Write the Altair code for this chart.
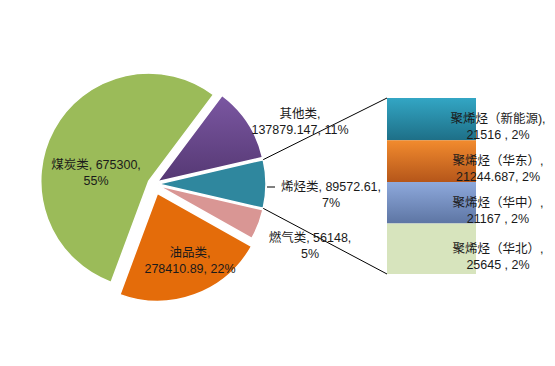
import math
import altair as alt
import pandas as pd

# ---------------- data ----------------
# pie slices, listed clockwise starting with the slice that is split into the bar
pie_names = ["烯烃类", "燃气类", "油品类", "煤炭类", "其他类"]
pie_values = [89572.61, 56148, 278410.89, 675300, 137879.147]
pie_pct = [7, 5, 22, 55, 11]
pie_wrap_after_value = [True, True, False, True, False]

# secondary bar (breakdown of 烯烃类), top to bottom
bar_names = ["聚烯烃（新能源)", "聚烯烃（华东）", "聚烯烃（华中）", "聚烯烃（华北）"]
bar_values = [21516, 21244.687, 21167, 25645]
bar_pct = [2, 2, 2, 2]

# ---------------- layout / style ----------------
W, H = 539, 350
CX, CY, R = 146, 176, 108
EXPLODE = {"煤炭类": 6, "油品类": 10, "其他类": 4, "烯烃类": 4, "燃气类": 4}
BX0, BX1, BY0, BY1 = 379, 468, 90, 266
FONT = "Liberation Sans, Noto Sans CJK SC"
FS = 12.5
TXT = "#1a1a1a"
LABEL_POS = {  # centre of each pie label block (view px)
    "煤炭类": (88, 157), "油品类": (182, 245), "其他类": (292, 106),
    "烯烃类": (323, 179), "燃气类": (302, 230),
}
pie_colors = {"烯烃类": "#2F879E", "燃气类": "#D99694", "油品类": "#E46C0A",
              "煤炭类": "#9BBB59", "其他类": "#6A4A90"}


def grad(top, bottom):
    return alt.LinearGradient(gradient="linear", x1=0, y1=0, x2=0, y2=1,
                              stops=[alt.GradientStop(offset=0, color=top),
                                     alt.GradientStop(offset=1, color=bottom)])


bar_fills = [grad("#33A6C4", "#1E6F87"), grad("#F28B2E", "#B5561A"),
             grad("#8EA9DC", "#5D75A3"), "#D7E4BD"]


def fmt(v):
    return str(v)


# ---------------- geometry derived from the data ----------------
total = sum(pie_values)
start = math.pi / 2 - math.pi * pie_values[0] / total
rows, acc = [], 0.0
for n, v, p, wrap in zip(pie_names, pie_values, pie_pct, pie_wrap_after_value):
    t0, t1 = acc, acc + v
    acc = t1
    mid = start + 2 * math.pi * (t0 + t1) / 2 / total
    e = EXPLODE.get(n, 0)
    label = f"{n}, {fmt(v)},\n{p}%" if wrap else f"{n},\n{fmt(v)}, {p}%"
    lx, ly = LABEL_POS[n]
    rows.append(dict(name=n, value=v, t0=t0, t1=t1,
                     px=CX + e * math.sin(mid), py=CY - e * math.cos(mid),
                     label=label, lx=lx, ly=ly))
pie_df = pd.DataFrame(rows)

btotal = sum(bar_values)
brows, acc = [], 0.0
for n, v, p in zip(bar_names, bar_values, bar_pct):
    vt = fmt(v) + (" " if float(v).is_integer() else "")
    brows.append(dict(name=n, b0=acc, b1=acc + v, bmid=acc + v / 2,
                      label=f"{n},\n{vt}, {p}%"))
    acc += v
bar_df = pd.DataFrame(brows)

a0 = start
a1 = start + 2 * math.pi * pie_values[0] / total
amid = (a0 + a1) / 2
ox = pie_df.loc[0, "px"]
oy = pie_df.loc[0, "py"]
line_df = pd.DataFrame([
    dict(x=ox + R * math.sin(a0), y=oy - R * math.cos(a0), x2=BX0, y2=BY0),
    dict(x=ox + R * math.sin(a1), y=oy - R * math.cos(a1), x2=BX0, y2=BY1),
    dict(x=ox + (R + 1) * math.sin(amid), y=oy - R * math.cos(amid) + 3,
         x2=ox + (R + 9) * math.sin(amid), y2=oy - R * math.cos(amid) + 3),
])

# ---------------- chart ----------------
theta_scale = alt.Scale(domain=[0, total], range=[start, start + 2 * math.pi])

pie = alt.Chart(pie_df).mark_arc(radius=R, stroke="white", strokeWidth=1.5).encode(
    theta=alt.Theta("t0:Q", scale=theta_scale, stack=False),
    theta2="t1:Q",
    x=alt.X("px:Q", scale=None, axis=None),
    y=alt.Y("py:Q", scale=None, axis=None),
    color=alt.Color("name:N", legend=None,
                    scale=alt.Scale(domain=list(pie_colors), range=list(pie_colors.values()))),
)

purple = alt.Chart(pie_df).transform_filter(alt.datum.name == "其他类").mark_arc(
    radius=R, stroke="white", strokeWidth=1.5, fill=grad("#7B57A2", "#553873")
).encode(
    theta=alt.Theta("t0:Q", scale=theta_scale, stack=False),
    theta2="t1:Q",
    x=alt.X("px:Q", scale=None, axis=None),
    y=alt.Y("py:Q", scale=None, axis=None),
)

pie_text = alt.Chart(pie_df).mark_text(
    align="center", baseline="middle", lineBreak="\n", lineHeight=16,
    fontSize=FS, font=FONT, color=TXT
).encode(
    x=alt.X("lx:Q", scale=None, axis=None),
    y=alt.Y("ly:Q", scale=None, axis=None),
    text="label:N",
)

lines = alt.Chart(line_df).mark_rule(color="#000000", strokeWidth=1).encode(
    x=alt.X("x:Q", scale=None, axis=None),
    y=alt.Y("y:Q", scale=None, axis=None),
    x2="x2:Q", y2="y2:Q",
)

bar_y = alt.Scale(domain=[0, btotal], range=[BY0, BY1])
cells = []
for n, f in zip(bar_names, bar_fills):
    cells.append(
        alt.Chart(bar_df).transform_filter(alt.datum.name == n).mark_rect(fill=f).encode(
            x=alt.value(BX0), x2=alt.value(BX1),
            y=alt.Y("b0:Q", scale=bar_y, axis=None), y2="b1:Q",
        )
    )

bar_text = alt.Chart(bar_df).mark_text(
    align="center", baseline="middle", lineBreak="\n", lineHeight=16,
    fontSize=FS, font=FONT, color=TXT
).encode(
    x=alt.value(490),
    y=alt.Y("bmid:Q", scale=bar_y, axis=None),
    text="label:N",
)

chart = alt.layer(pie, purple, lines, *cells, pie_text, bar_text).resolve_scale(
    x="independent", y="independent", color="independent"
).properties(
    width=W, height=H, autosize="none", padding=0, background="white"
).configure_view(stroke=None)

chart.save("out.html", embed_options={"renderer": "svg", "actions": False})
